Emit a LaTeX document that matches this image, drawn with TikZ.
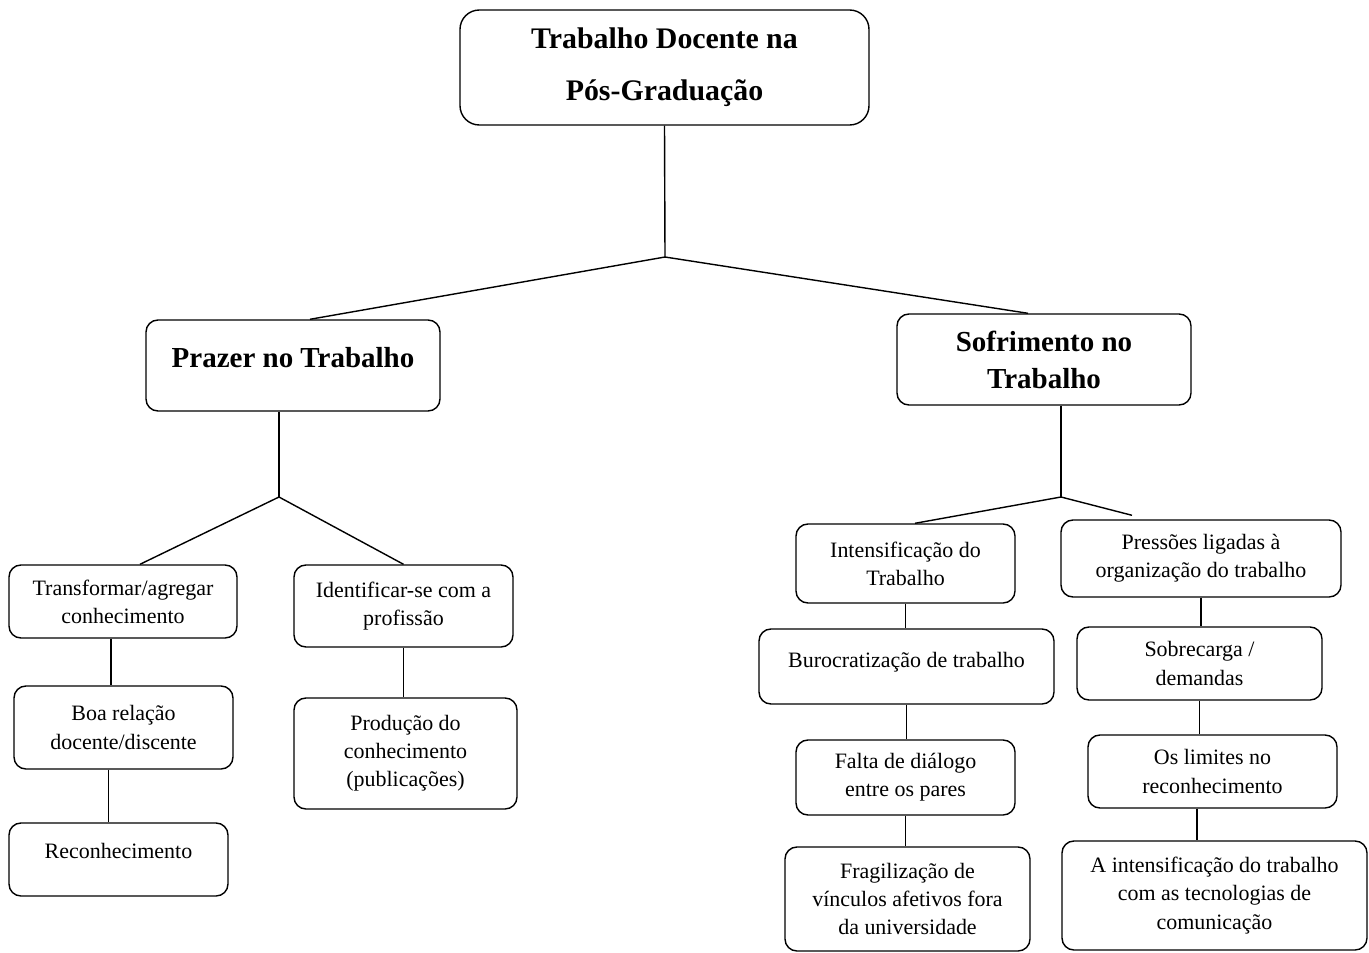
\documentclass[tikz,border=0pt]{standalone}
\usepackage{fontspec}
\setmainfont{Liberation Serif}
\usetikzlibrary{positioning}

\tikzset{
  wh/.style 2 args={minimum width=#1*0.02cm, minimum height=#2*0.02cm},
  box/.style={draw, line width=0.8pt, rounded corners=6.8pt, align=center, inner sep=2pt},
  rootbox/.style={box, rounded corners=11pt, font=\bfseries\fontsize{17}{29.5}\selectfont},
  head/.style={box, font=\bfseries\fontsize{16.5}{21}\selectfont},
  leaf/.style={box, font=\fontsize{12.5}{16}\selectfont},
  link/.style={line width=0.8pt}
}

\begin{document}
\begin{tikzpicture}[x=0.02cm, y=-0.02cm]
				\useasboundingbox (0,0) rectangle (1369,953);
				
				% Main topic and its two branches
				\node[rootbox, wh={409}{115}] (root) at (664.5,67.5) {Trabalho Docente na\\Pós-Graduação};
				\node[head, wh={294}{91}] (prazer) at (293,365.5) {\raisebox{9pt}{Prazer no Trabalho}};
				\node[head, wh={294}{91}] (sofr) at (1044,359.5) {Sofrimento no\\Trabalho};
				
				% Left branch: pleasure
				\node[leaf, wh={228}{73}] (transf) at (123,601.5) {Transformar/agregar\\conhecimento};
				\node[leaf, wh={219}{82}] (ident) at (403.5,606) {Identificar-se com a\\profissão};
				\node[leaf, wh={219}{83}] (boa) at (123.5,727.5) {Boa relação\\docente/discente};
				\node[leaf, wh={219}{73}] (recon) at (118.5,859.5) {\raisebox{10pt}{Reconhecimento}};
				\node[leaf, wh={223}{111}] (prod) at (405.5,753.5) {Produção do\\conhecimento\\(publicações)};
				
				% Right branch: suffering
				\node[leaf, wh={219}{79}] (intens) at (905.5,563.5) {Intensificação do\\Trabalho};
				\node[leaf, wh={280}{77}] (press) at (1201,558.5) {Pressões ligadas à\\organização do trabalho};
				\node[leaf, wh={295}{75}] (buro) at (906.5,666.5) {\raisebox{8pt}{Burocratização de trabalho}};
				\node[leaf, wh={219}{75}] (falta) at (905.5,777.5) {Falta de diálogo\\entre os pares};
				\node[leaf, wh={245}{104}] (frag) at (907.5,899) {Fragilização de\\vínculos afetivos fora\\da universidade};
				\node[leaf, wh={245}{73}] (sobre) at (1199.5,663.5) {Sobrecarga /\\demandas};
				\node[leaf, wh={249}{73}] (limites) at (1212.5,771.5) {Os limites no\\reconhecimento};
				\node[leaf, wh={305}{109}] (aint) at (1214.5,895.5) {A intensificação do trabalho\\com as tecnologias de\\comunicação};
				
				% Branching points
				\coordinate (j0) at (665,257);
				\coordinate (j1) at (279,497);
				\coordinate (j2) at (1061,497);
				
				% Connectors
				\draw[link] (root.south) -- (j0);
				\draw[link] (j0) -- ([xshift=0.34cm]prazer.north);
				\draw[link] (j0) -- ([xshift=-0.32cm]sofr.north);
				
				\draw[link] (j1 |- prazer.south) -- (j1);
				\draw[link] (j1) -- ([xshift=0.34cm]transf.north);
				\draw[link] (j1) -- (ident.north);
				\draw[link] ([xshift=-0.24cm]transf.south) -- ([xshift=-0.24cm]transf.south |- boa.north);
				\draw[link] ([xshift=-0.3cm]boa.south) -- ([xshift=-0.3cm]boa.south |- recon.north);
				\draw[link] (ident.south) -- (ident.south |- prod.north);
				
				\draw[link] (j2 |- sofr.south) -- (j2);
				\draw[link] (j2) -- ([xshift=0.19cm]intens.north);
				\draw[link] (j2) -- ([xshift=-1.38cm, yshift=0.08cm]press.north);
				\draw[link] (intens.south) -- (intens.south |- buro.north);
				\draw[link] (buro.south) -- (buro.south |- falta.north);
				\draw[link] (falta.south) -- (falta.south |- frag.north);
				\draw[link] (press.south) -- (press.south |- sobre.north);
				\draw[link] (sobre.south) -- (sobre.south |- limites.north);
				\draw[link] ([xshift=-0.31cm]limites.south) -- ([xshift=-0.31cm]limites.south |- aint.north);
			\end{tikzpicture}
\end{document}
